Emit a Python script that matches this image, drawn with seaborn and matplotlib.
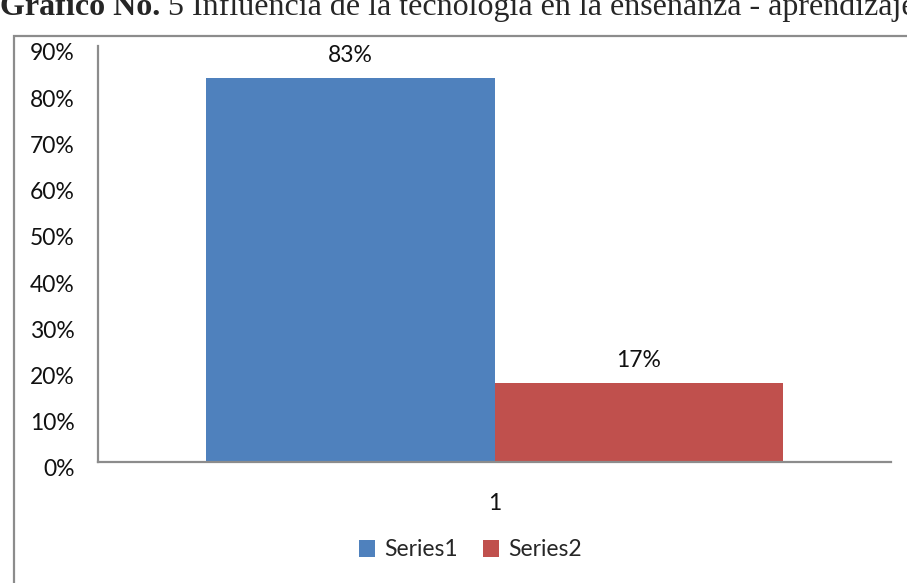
import matplotlib
matplotlib.use("Agg")
import matplotlib.pyplot as plt
import matplotlib.transforms as mtransforms
from matplotlib.patches import Rectangle
import pandas as pd
import seaborn as sns

# Data
categories = ["1", "1"]
series = ["Series1", "Series2"]
values = [0.83, 0.17]
yticks = [0, 0.1, 0.2, 0.3, 0.4, 0.5, 0.6, 0.7, 0.8, 0.9]
colors = ["#4F81BD", "#C0504D"]
title_bold = "Gráfico No."
title_rest = " 5 Influencia de la tecnología en la enseñanza - aprendizaje"

df = pd.DataFrame({"cat": categories, "series": series, "value": values})

sns.set_style("white")
plt.rcParams["font.family"] = ["Lato", "DejaVu Sans"]
fs = 16.5

fig = plt.figure(figsize=(9.07, 5.83), dpi=100)
ax = fig.add_axes([98 / 907, 1 - 462 / 583, (891 - 98) / 907, (462 - 46) / 583])

sns.barplot(data=df, x="cat", y="value", hue="series", palette=colors,
            width=0.727, gap=0, saturation=1, linewidth=0, ax=ax, legend=True)

ax.set_ylim(0, 0.9)
ax.set_xlim(-0.5, 0.5)
ax.set_yticks(yticks)
ax.set_yticklabels([f"{int(round(t * 100))}%" for t in yticks])
ax.set_xlabel("")
ax.set_ylabel("")
ax.tick_params(axis="y", length=0, pad=17, labelsize=fs, labelcolor="#111111")
ax.tick_params(axis="x", length=0, pad=22, labelsize=fs, labelcolor="#111111")

# y labels sit a little below their gridline in the original
offset = mtransforms.ScaledTranslation(0, -6 / 100, fig.dpi_scale_trans)
for lab in ax.get_yticklabels():
    lab.set_transform(lab.get_transform() + offset)

for side in ["top", "right"]:
    ax.spines[side].set_visible(False)
for side in ["left", "bottom"]:
    ax.spines[side].set_color("#8c8c8c")
    ax.spines[side].set_linewidth(1.6)

# data labels
for cont in ax.containers:
    ax.bar_label(cont, labels=[f"{int(round(v * 100))}%" for v in cont.datavalues],
                 padding=9, fontsize=fs, color="#111111")

# legend at bottom
handles, labels = ax.get_legend_handles_labels()
ax.legend(handles, labels, loc="center", bbox_to_anchor=(470 / 907, 1 - 550 / 583),
          bbox_transform=fig.transFigure, ncol=2, frameon=False, fontsize=fs,
          handlelength=0.7, handleheight=0.7, handletextpad=0.4, columnspacing=1.1)

# chart border
fig.patches.append(Rectangle((14 / 907, -0.1), 1.2, 1 - 36 / 583 + 0.1,
                             transform=fig.transFigure, fill=False,
                             edgecolor="#8c8c8c", linewidth=1.6, clip_on=False))

# title, cut at the top like the reference
base_y = 1 - 15 / 583
t1 = fig.text(0, base_y, title_bold, fontsize=23, fontweight="bold",
              family="Liberation Serif", va="baseline", ha="left")
fig.canvas.draw()
bb = t1.get_window_extent()
fig.text(bb.x1 / 907, base_y, title_rest, fontsize=23,
         family="Liberation Serif", va="baseline", ha="left")

fig.savefig("out.png", dpi=100)
